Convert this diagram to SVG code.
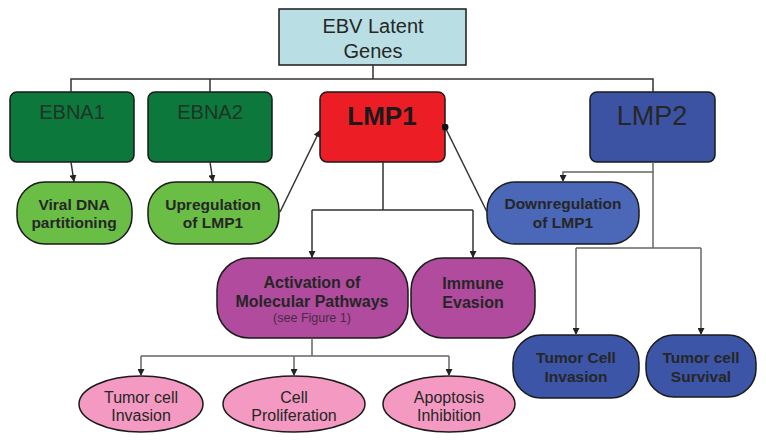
<svg xmlns="http://www.w3.org/2000/svg" width="766" height="442" viewBox="0 0 766 442">
<defs>
<marker id="ah" viewBox="0 0 10 10" refX="10" refY="5" markerWidth="7" markerHeight="7" markerUnits="userSpaceOnUse" orient="auto">
<path d="M0,0 L10,5 L0,10 z" fill="#222"/>
</marker>
<marker id="dot" viewBox="0 0 10 10" refX="5" refY="5" markerWidth="7" markerHeight="7" markerUnits="userSpaceOnUse">
<circle cx="5" cy="5" r="5" fill="#111"/>
</marker>
<style>
.n{stroke:#1a1a1a;stroke-width:1.5}
.t{font-family:"Liberation Sans",Arial,sans-serif;fill:#262626;text-anchor:middle}
.b{font-weight:bold;font-size:15.5px}
.e{font-size:16px}
.c{fill:none;stroke:#333;stroke-width:1.5}
.g{fill:none;stroke:#666;stroke-width:1.5}
</style>
</defs>
<rect width="766" height="442" fill="#fff"/>
<g id="ebv">
<rect class="n" x="279" y="9" width="187" height="56" fill="#b9dfe5"/>
<text class="t" x="373" y="33" font-size="20">EBV Latent</text>
<text class="t" x="373" y="58" font-size="20">Genes</text>
</g>
<g id="ebna1">
<rect class="n" x="10" y="92" width="124" height="70" rx="7" fill="#0d783c"/>
<text class="t" x="72" y="119" font-size="20" style="fill:#1e3327">EBNA1</text>
</g>
<g id="ebna2">
<rect class="n" x="148" y="92" width="124" height="70" rx="7" fill="#0d783c"/>
<text class="t" x="210" y="119" font-size="20" style="fill:#1e3327">EBNA2</text>
</g>
<g id="lmp1">
<rect class="n" x="320" y="92" width="125" height="70" rx="7" fill="#ec1d25"/>
<text class="t" x="382" y="125" font-size="26" font-weight="bold" style="fill:#1a1a1a">LMP1</text>
</g>
<g id="lmp2">
<rect class="n" x="590" y="92" width="125" height="70" rx="7" fill="#3c53a4"/>
<text class="t" x="652" y="125" font-size="27">LMP2</text>
</g>
<g id="viral">
<rect class="n" x="17" y="182" width="115" height="62" rx="28" fill="#6abd45"/>
<text class="t b" x="74" y="210">Viral DNA</text>
<text class="t b" x="74" y="228">partitioning</text>
</g>
<g id="upreg">
<rect class="n" x="148" y="182" width="131" height="62" rx="28" fill="#6abd45"/>
<text class="t b" x="213" y="210">Upregulation</text>
<text class="t b" x="213" y="228">of LMP1</text>
</g>
<g id="downreg">
<rect class="n" x="487" y="182" width="152" height="62" rx="28" fill="#4a67b8"/>
<text class="t b" x="563" y="209">Downregulation</text>
<text class="t b" x="563" y="228">of LMP1</text>
</g>
<g id="activation">
<rect class="n" x="217" y="258" width="191" height="80" rx="32" fill="#b04b9e"/>
<text class="t" x="312" y="288" font-size="16" font-weight="bold">Activation of</text>
<text class="t" x="312" y="307" font-size="16" font-weight="bold">Molecular Pathways</text>
<text class="t" x="312" y="322" font-size="12.5" style="fill:#4a2a45">(see Figure 1)</text>
</g>
<g id="immune">
<rect class="n" x="411" y="258" width="124" height="80" rx="32" fill="#b04b9e"/>
<text class="t" x="473" y="289" font-size="16" font-weight="bold">Immune</text>
<text class="t" x="473" y="308" font-size="16" font-weight="bold">Evasion</text>
</g>
<g id="tci">
<rect class="n" x="513" y="335" width="126" height="63" rx="28" fill="#3c55a6"/>
<text class="t b" x="576" y="363">Tumor Cell</text>
<text class="t b" x="576" y="382">Invasion</text>
</g>
<g id="tcs">
<rect class="n" x="646" y="335" width="110" height="62" rx="28" fill="#3c55a6"/>
<text class="t b" x="701" y="363">Tumor cell</text>
<text class="t b" x="701" y="382">Survival</text>
</g>
<g id="invasion">
<ellipse class="n" cx="141" cy="404" rx="62" ry="28" fill="#f49ac2"/>
<text class="t e" x="141" y="403">Tumor cell</text>
<text class="t e" x="141" y="421">Invasion</text>
</g>
<g id="prolif">
<ellipse class="n" cx="294" cy="404" rx="71" ry="28" fill="#f49ac2"/>
<text class="t e" x="294" y="403">Cell</text>
<text class="t e" x="294" y="421">Proliferation</text>
</g>
<g id="apoptosis">
<ellipse class="n" cx="449" cy="404" rx="66" ry="28" fill="#f49ac2"/>
<text class="t e" x="449" y="403">Apoptosis</text>
<text class="t e" x="449" y="421">Inhibition</text>
</g>
<g id="connectors">
<path class="c" d="M373,65 V79 M71,92 V79 H653 V92 M210,79 V92"/>
<path class="c" d="M71,162 L74,182" marker-end="url(#ah)"/>
<path class="c" d="M210,162 L213,182" marker-end="url(#ah)"/>
<path class="c" d="M280,212 L320,130" marker-end="url(#ah)"/>
<path class="c" d="M487,212 L445,127" marker-end="url(#dot)"/>
<path class="g" d="M653,162 V172 H563 V182" marker-end="url(#ah)"/>
<path class="g" d="M653,172 V248"/>
<path class="g" d="M576,248 H701"/>
<path class="g" d="M576,248 V335" marker-end="url(#ah)"/>
<path class="g" d="M701,248 V335" marker-end="url(#ah)"/>
<path class="c" d="M383,162 V210 M312,210 H473"/>
<path class="c" d="M312,210 V258" marker-end="url(#ah)"/>
<path class="c" d="M473,210 V258" marker-end="url(#ah)"/>
<path class="g" d="M312,338 V356 M141,356 H449"/>
<path class="g" d="M141,356 V376" marker-end="url(#ah)"/>
<path class="g" d="M294,356 V376" marker-end="url(#ah)"/>
<path class="g" d="M449,356 V376" marker-end="url(#ah)"/>
</g>
</svg>
